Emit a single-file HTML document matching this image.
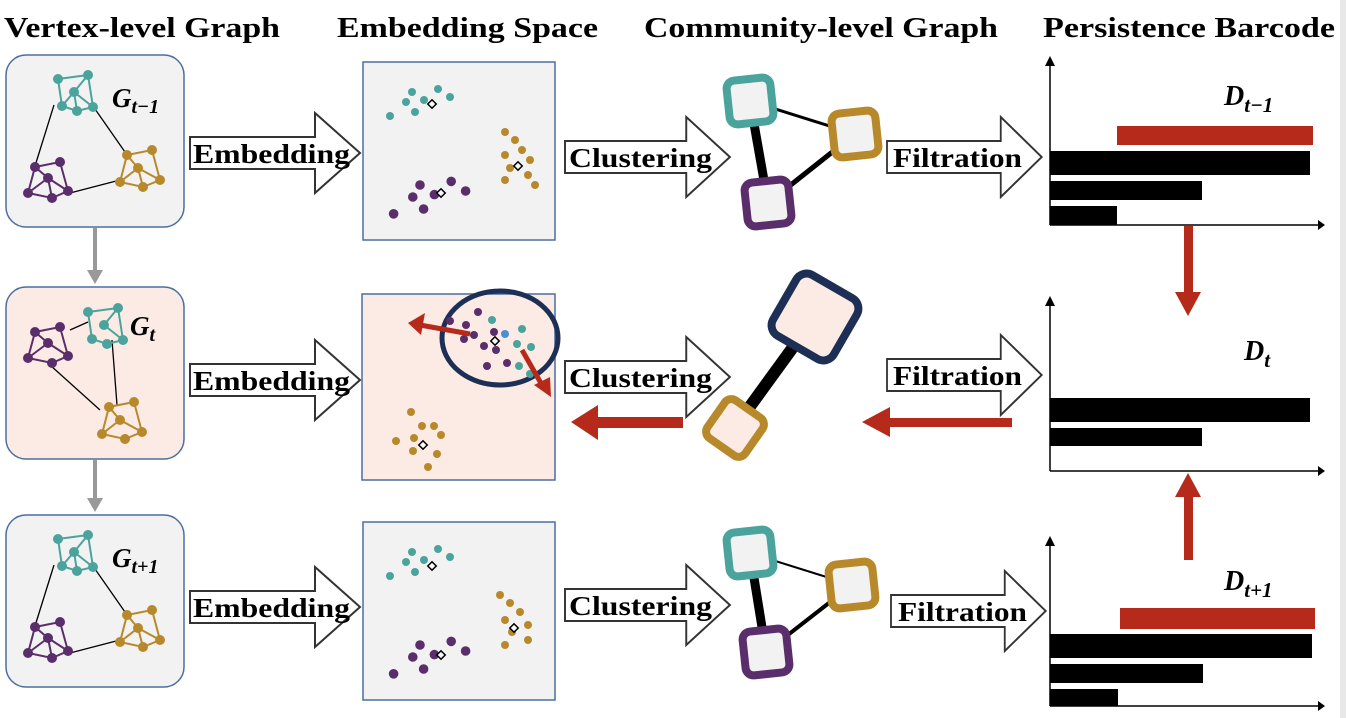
<!DOCTYPE html>
<html><head><meta charset="utf-8"><style>
body{margin:0;background:#fff}
svg{display:block}
text{font-family:"Liberation Serif",serif;font-weight:bold}
</style></head><body>
<svg width="1346" height="718" viewBox="0 0 1346 718" xmlns="http://www.w3.org/2000/svg">
<defs>
<g id="g1">
 <g stroke="#000" stroke-width="1.3">
  <line x1="54" y1="105" x2="35" y2="166"/><line x1="95" y1="109" x2="125" y2="152"/><line x1="70" y1="193" x2="120" y2="180"/>
 </g>
 <g stroke="#4aa39c" stroke-width="2" fill="none"><polyline points="58,79 88,75 93,107 77,111 62,106 58,79"/><polyline points="74,92 88,75"/><polyline points="74,92 93,107"/><polyline points="74,92 62,106"/><polyline points="74,92 77,111"/></g>
 <g fill="#4aa39c"><circle cx="58" cy="79" r="5"/><circle cx="88" cy="75" r="5"/><circle cx="74" cy="92" r="5"/><circle cx="62" cy="106" r="5"/><circle cx="77" cy="111" r="5"/><circle cx="93" cy="107" r="5"/></g>
 <g stroke="#5a2d6b" stroke-width="2" fill="none"><polyline points="35,167 60,162 68,191 52,198 28,193 35,167"/><polyline points="48,178 35,167"/><polyline points="48,178 68,191"/><polyline points="48,178 52,198"/><polyline points="48,178 28,193"/></g>
 <g fill="#5a2d6b"><circle cx="35" cy="167" r="5"/><circle cx="60" cy="162" r="5"/><circle cx="48" cy="178" r="5"/><circle cx="28" cy="193" r="5"/><circle cx="52" cy="198" r="5"/><circle cx="68" cy="191" r="5"/></g>
 <g stroke="#b8892a" stroke-width="2" fill="none"><polyline points="127,155 152,150 160,180 143,187 120,182 127,155"/><polyline points="138,168 127,155"/><polyline points="138,168 160,180"/><polyline points="138,168 143,187"/><polyline points="138,168 120,182"/></g>
 <g fill="#b8892a"><circle cx="127" cy="155" r="5"/><circle cx="152" cy="150" r="5"/><circle cx="138" cy="168" r="5"/><circle cx="120" cy="182" r="5"/><circle cx="143" cy="187" r="5"/><circle cx="160" cy="180" r="5"/></g>
</g>
<g id="barrow"><path d="M0,-16 H125 V-40 L170,0 L125,40 V16 H0 Z" fill="#fff" stroke="#333" stroke-width="2"/></g>
<g id="cc">
 <circle cx="0" cy="0" r="4"/><circle cx="26" cy="-3" r="4"/><circle cx="12" cy="8" r="4"/><circle cx="-6" cy="10" r="4"/><circle cx="3" cy="20" r="4"/><circle cx="38" cy="5" r="4"/><circle cx="-22" cy="24" r="4"/>
</g>
</defs>

<!-- titles -->
<g font-size="28" fill="#000">
<text x="4" y="37" textLength="276" lengthAdjust="spacingAndGlyphs">Vertex-level Graph</text>
<text x="337" y="37" textLength="261" lengthAdjust="spacingAndGlyphs">Embedding Space</text>
<text x="644" y="37" textLength="354" lengthAdjust="spacingAndGlyphs">Community-level Graph</text>
<text x="1043" y="37" textLength="292" lengthAdjust="spacingAndGlyphs">Persistence Barcode</text>
</g>
<rect x="1340" y="0" width="6" height="718" fill="#e8e8e8"/>

<!-- vertex panels -->
<rect x="6" y="55" width="178" height="172" rx="20" fill="#f2f2f2" stroke="#4a6fa0" stroke-width="1.5"/>
<rect x="6" y="287" width="178" height="172" rx="20" fill="#fbebe4" stroke="#4a6fa0" stroke-width="1.5"/>
<rect x="6" y="515" width="178" height="172" rx="20" fill="#f2f2f2" stroke="#4a6fa0" stroke-width="1.5"/>
<use href="#g1"/>
<use href="#g1" transform="translate(0,460)"/>
<!-- row2 graph -->
<g>
 <g stroke="#000" stroke-width="1.3"><line x1="70" y1="330" x2="88" y2="322"/><line x1="112" y1="340" x2="117" y2="405"/><line x1="50" y1="365" x2="100" y2="410"/></g>
 <g transform="translate(30,233)"><g stroke="#4aa39c" stroke-width="2" fill="none"><polyline points="58,79 88,75 93,107 77,111 62,106 58,79"/><polyline points="74,92 88,75"/><polyline points="74,92 93,107"/></g>
 <g fill="#4aa39c"><circle cx="58" cy="79" r="5"/><circle cx="88" cy="75" r="5"/><circle cx="74" cy="92" r="5"/><circle cx="62" cy="106" r="5"/><circle cx="77" cy="111" r="5"/><circle cx="93" cy="107" r="5"/></g></g>
 <g transform="translate(0,165)"><g stroke="#5a2d6b" stroke-width="2" fill="none"><polyline points="35,167 60,162 68,191 52,198 28,193 35,167"/><polyline points="48,178 35,167"/><polyline points="48,178 68,191"/><polyline points="48,178 28,193"/></g>
 <g fill="#5a2d6b"><circle cx="35" cy="167" r="5"/><circle cx="60" cy="162" r="5"/><circle cx="48" cy="178" r="5"/><circle cx="28" cy="193" r="5"/><circle cx="52" cy="198" r="5"/><circle cx="68" cy="191" r="5"/></g></g>
 <g transform="translate(-18,252)"><g stroke="#b8892a" stroke-width="2" fill="none"><polyline points="127,155 152,150 160,180 143,187 120,182 127,155"/><polyline points="138,168 127,155"/><polyline points="138,168 160,180"/><polyline points="138,168 120,182"/></g>
 <g fill="#b8892a"><circle cx="127" cy="155" r="5"/><circle cx="152" cy="150" r="5"/><circle cx="138" cy="168" r="5"/><circle cx="120" cy="182" r="5"/><circle cx="143" cy="187" r="5"/><circle cx="160" cy="180" r="5"/></g></g>
</g>
<g font-size="27" fill="#000" font-style="italic">
<text x="112" y="107">G<tspan font-size="20" dy="6">t−1</tspan></text>
<text x="130" y="335">G<tspan font-size="20" dy="6">t</tspan></text>
<text x="112" y="567">G<tspan font-size="20" dy="6">t+1</tspan></text>
</g>
<!-- gray arrows -->
<g fill="#999" stroke="#999" stroke-width="4">
<line x1="95" y1="228" x2="95" y2="272"/><path d="M87,270 L95,284 L103,270Z" stroke="none"/>
<line x1="95" y1="460" x2="95" y2="500"/><path d="M87,498 L95,512 L103,498Z" stroke="none"/>
</g>

<!-- embedding arrows -->
<use href="#barrow" transform="translate(190,153)"/>
<use href="#barrow" transform="translate(190,380)"/>
<use href="#barrow" transform="translate(190,607)"/>
<g font-size="27"><text x="193" y="163" textLength="157" lengthAdjust="spacingAndGlyphs">Embedding</text><text x="193" y="390" textLength="157" lengthAdjust="spacingAndGlyphs">Embedding</text><text x="193" y="617" textLength="157" lengthAdjust="spacingAndGlyphs">Embedding</text></g>

<!-- embedding boxes -->
<rect x="363" y="62" width="192" height="178" fill="#f2f2f2" stroke="#4a6fa0" stroke-width="1.5"/>
<rect x="362" y="294" width="193" height="186" fill="#fbebe4" stroke="#4a6fa0" stroke-width="1.5"/>
<rect x="363" y="522" width="192" height="178" fill="#f2f2f2" stroke="#4a6fa0" stroke-width="1.5"/>
<g fill="#4aa39c"><use href="#cc" transform="translate(412,92)"/><use href="#cc" transform="translate(412,552)"/></g>
<g fill="#5a2d6b"><use href="#cc" transform="translate(420,185) scale(1.2)"/><use href="#cc" transform="translate(420,645) scale(1.2)"/></g>
<g fill="#b8892a">
<circle cx="505" cy="132" r="4"/><circle cx="515" cy="140" r="4"/><circle cx="522" cy="150" r="4"/><circle cx="505" cy="155" r="4"/><circle cx="530" cy="160" r="4"/><circle cx="510" cy="168" r="4"/><circle cx="528" cy="175" r="4"/><circle cx="505" cy="180" r="4"/><circle cx="535" cy="185" r="4"/>
<circle cx="500" cy="595" r="4"/><circle cx="510" cy="603" r="4"/><circle cx="520" cy="612" r="4"/><circle cx="505" cy="620" r="4"/><circle cx="528" cy="625" r="4"/><circle cx="512" cy="632" r="4"/><circle cx="528" cy="640" r="4"/><circle cx="505" cy="645" r="4"/>
</g>
<g fill="#fff" stroke="#000" stroke-width="1.5"><rect x="429" y="101" width="6" height="6" transform="rotate(45 432 104)"/><rect x="438" y="190" width="6" height="6" transform="rotate(45 441 193)"/><rect x="515" y="163" width="6" height="6" transform="rotate(45 518 166)"/><rect x="429" y="563" width="6" height="6" transform="rotate(45 432 566)"/><rect x="438" y="652" width="6" height="6" transform="rotate(45 441 655)"/><rect x="511" y="625" width="6" height="6" transform="rotate(45 514 628)"/></g>
<!-- row2 embedding -->
<ellipse cx="500" cy="338" rx="58" ry="47" fill="none" stroke="#1e2f55" stroke-width="5"/>
<g fill="#5a2d6b"><circle cx="478" cy="312" r="4"/><circle cx="466" cy="325" r="4"/><circle cx="474" cy="335" r="4"/><circle cx="464" cy="339" r="4"/><circle cx="494" cy="332" r="4"/><circle cx="484" cy="346" r="4"/><circle cx="496" cy="350" r="4"/><circle cx="487" cy="366" r="4"/><circle cx="507" cy="363" r="4"/><circle cx="450" cy="321" r="4"/></g>
<g fill="#4aa39c"><circle cx="492" cy="320" r="4"/><circle cx="522" cy="329" r="4"/><circle cx="517" cy="344" r="4"/><circle cx="531" cy="347" r="4"/><circle cx="519" cy="366" r="4"/><circle cx="530" cy="374" r="4"/></g>
<circle cx="505" cy="334" r="4" fill="#4a8fd6"/>
<g fill="#b8892a"><circle cx="411" cy="412" r="4"/><circle cx="422" cy="426" r="4"/><circle cx="434" cy="426" r="4"/><circle cx="414" cy="438" r="4"/><circle cx="441" cy="435" r="4"/><circle cx="396" cy="441" r="4"/><circle cx="413" cy="451" r="4"/><circle cx="437" cy="454" r="4"/><circle cx="428" cy="467" r="4"/></g>
<g fill="#fff" stroke="#000" stroke-width="1.5"><rect x="492" y="338" width="6" height="6" transform="rotate(45 495 341)"/><rect x="420" y="442" width="6" height="6" transform="rotate(45 423 445)"/></g>
<g stroke="#b52a1a" stroke-width="5" fill="#b52a1a"><line x1="470" y1="334" x2="420" y2="325"/><path d="M408,323 L425,313 L421,335Z" stroke="none"/><line x1="522" y1="350" x2="542" y2="385"/><path d="M551,397 L534,385 L550,377Z" stroke="none"/></g>

<!-- clustering arrows -->
<g transform="translate(565,157) scale(0.97,1)"><use href="#barrow"/></g>
<g transform="translate(565,377) scale(0.97,1)"><use href="#barrow"/></g>
<g transform="translate(565,605) scale(0.97,1)"><use href="#barrow"/></g>
<g font-size="27"><text x="569" y="167" textLength="143" lengthAdjust="spacingAndGlyphs">Clustering</text><text x="569" y="387" textLength="143" lengthAdjust="spacingAndGlyphs">Clustering</text><text x="569" y="615" textLength="143" lengthAdjust="spacingAndGlyphs">Clustering</text></g>

<!-- community graphs row1 -->
<g stroke="#000"><line x1="750" y1="101" x2="768" y2="203" stroke-width="9"/><line x1="750" y1="101" x2="855" y2="134" stroke-width="3"/><line x1="855" y1="134" x2="768" y2="203" stroke-width="5"/></g>
<g fill="#f2f2f2" stroke-width="8">
<rect x="728" y="79" width="44" height="44" rx="8" stroke="#4aa39c" transform="rotate(-6 750 101)"/>
<rect x="833" y="112" width="44" height="44" rx="8" stroke="#b8892a" transform="rotate(-6 855 134)"/>
<rect x="746" y="181" width="44" height="44" rx="8" stroke="#5a2d6b" transform="rotate(-6 768 203)"/>
</g>
<!-- row3 -->
<g stroke="#000"><line x1="750" y1="553" x2="766" y2="652" stroke-width="9"/><line x1="750" y1="553" x2="852" y2="585" stroke-width="2"/><line x1="852" y1="585" x2="766" y2="652" stroke-width="4"/></g>
<g fill="#f2f2f2" stroke-width="8">
<rect x="728" y="531" width="44" height="44" rx="8" stroke="#4aa39c" transform="rotate(-6 750 553)"/>
<rect x="830" y="563" width="44" height="44" rx="8" stroke="#b8892a" transform="rotate(-6 852 585)"/>
<rect x="744" y="630" width="44" height="44" rx="8" stroke="#5a2d6b" transform="rotate(-6 766 652)"/>
</g>
<!-- row2 -->
<line x1="815" y1="317" x2="735" y2="427" stroke="#000" stroke-width="12"/>
<rect x="780" y="282" width="70" height="70" rx="12" fill="#fbebe4" stroke="#1e2f55" stroke-width="8" transform="rotate(30 815 317)"/>
<rect x="712" y="405" width="46" height="46" rx="8" fill="#fbebe4" stroke="#b8892a" stroke-width="8" transform="rotate(35 735 428)"/>
<g fill="#b52a1a"><rect x="595" y="417" width="88" height="11"/><path d="M571,422 L598,405 L598,440Z"/>
<rect x="885" y="418" width="127" height="9"/><path d="M862,422 L890,407 L890,437Z"/></g>

<!-- filtration arrows -->
<g transform="translate(887,157) scale(0.91,1)"><use href="#barrow"/></g>
<g transform="translate(887,375) scale(0.91,1)"><use href="#barrow"/></g>
<g transform="translate(891,611) scale(0.91,1)"><use href="#barrow"/></g>
<g font-size="27"><text x="893" y="167" textLength="129" lengthAdjust="spacingAndGlyphs">Filtration</text><text x="893" y="385" textLength="129" lengthAdjust="spacingAndGlyphs">Filtration</text><text x="898" y="621" textLength="129" lengthAdjust="spacingAndGlyphs">Filtration</text></g>

<!-- barcodes -->
<g stroke="#000" stroke-width="1.5">
<line x1="1050" y1="62" x2="1050" y2="225"/><line x1="1050" y1="225" x2="1322" y2="225"/>
<line x1="1050" y1="302" x2="1050" y2="471"/><line x1="1050" y1="471" x2="1322" y2="471"/>
<line x1="1050" y1="542" x2="1050" y2="706"/><line x1="1050" y1="706" x2="1322" y2="706"/>
</g>
<g fill="#000">
<path d="M1045,66 L1050,56 L1055,66Z"/><path d="M1318,220 L1325,225 L1318,230Z"/>
<path d="M1045,306 L1050,296 L1055,306Z"/><path d="M1318,466 L1325,471 L1318,476Z"/>
<path d="M1045,546 L1050,536 L1055,546Z"/><path d="M1318,701 L1325,706 L1318,711Z"/>
<rect x="1050" y="151" width="260" height="24"/><rect x="1050" y="181" width="152" height="19"/><rect x="1050" y="206" width="67" height="19"/>
<rect x="1050" y="398" width="260" height="24"/><rect x="1050" y="428" width="152" height="18"/>
<rect x="1050" y="634" width="262" height="24"/><rect x="1050" y="664" width="153" height="19"/><rect x="1050" y="689" width="68" height="17"/>
</g>
<g fill="#b52a1a">
<rect x="1117" y="126" width="196" height="19"/><rect x="1120" y="608" width="195" height="21"/>
<rect x="1184" y="226" width="9" height="68"/><path d="M1175,292 L1188,316 L1201,292Z"/>
<rect x="1184" y="495" width="9" height="65"/><path d="M1175,497 L1188,473 L1201,497Z"/>
</g>
<g font-size="28" font-style="italic" fill="#000">
<text x="1224" y="105">D<tspan font-size="21" dy="7">t−1</tspan></text>
<text x="1244" y="360">D<tspan font-size="21" dy="7">t</tspan></text>
<text x="1224" y="590">D<tspan font-size="21" dy="7">t+1</tspan></text>
</g>
</svg>
</body></html>
